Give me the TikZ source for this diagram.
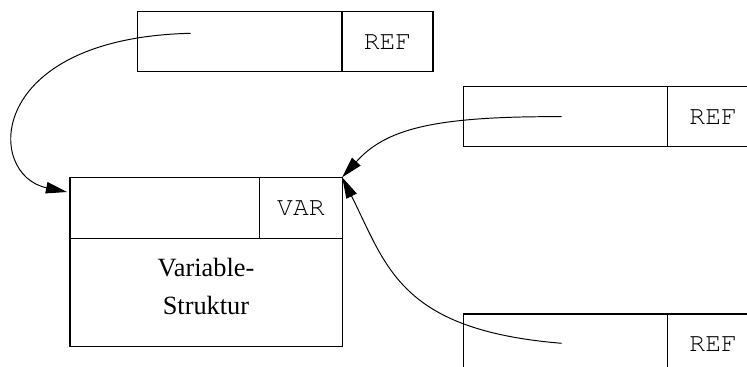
\documentclass[tikz,border=0pt]{standalone}
\usepackage{fontspec}
\setmainfont{Liberation Serif}
\setmonofont{TeX Gyre Cursor}
\usetikzlibrary{arrows.meta}
\begin{document}
\begin{tikzpicture}[x=0.02cm, y=-0.02cm, line width=0.6pt,
    cell/.style={draw, rectangle, anchor=north west, inner sep=0pt, outer sep=0pt, minimum height=1.2cm, font=\fontsize{15}{21.5}\selectfont},
    tag/.style={cell, minimum width=1.82cm, font=\fontsize{15}{21.5}\selectfont\ttfamily},
    ptr/.style={-{Triangle[length=12pt, width=6.5pt]}, line width=0.55pt}]
    \clip (0,0) rectangle (747,367);

    % referencing records
    \node[cell, minimum width=4.09cm] (r1) at (137.5, 11.7) {};
    \node[tag] (r1tag) at (342, 11.7) {REF};
    \node[cell, minimum width=4.09cm] (r2) at (463.3, 86.7) {};
    \node[tag] (r2tag) at (667.7, 86.7) {REF};
    \node[cell, minimum width=4.09cm] (r3) at (463.3, 314) {};
    \node[tag] (r3tag) at (667.7, 314) {REF};

    % variable record
    \node[cell, minimum width=3.79cm, minimum height=1.22cm] (v) at (70, 177.3) {};
    \node[tag, minimum width=1.65cm, minimum height=1.22cm] (vtag) at (259.7, 177.3) {VAR};
    \node[cell, minimum width=5.45cm, minimum height=2.17cm] (vbody) at (70, 238.3) {};
    \node[align=center, font=\fontsize{15}{21.5}\selectfont] (vtext) at (206, 286.5) {Variable-\\Struktur};

    \coordinate (p1) at (190.7, 33.3);
    \coordinate (p2) at (561.7, 116.7);
    \coordinate (p3) at (561.7, 343.3);
    \coordinate (e1) at (67, 192);

    \draw [ptr] (p1) .. controls (-15, 38) and (-15, 175) .. (e1);
    \draw [ptr] (p2) .. controls (430, 116) and (385, 130) .. (vtag.north east);
    \draw [ptr] (p3) .. controls (400, 330) and (387, 267) .. (vtag.north east);
\end{tikzpicture}
\end{document}
